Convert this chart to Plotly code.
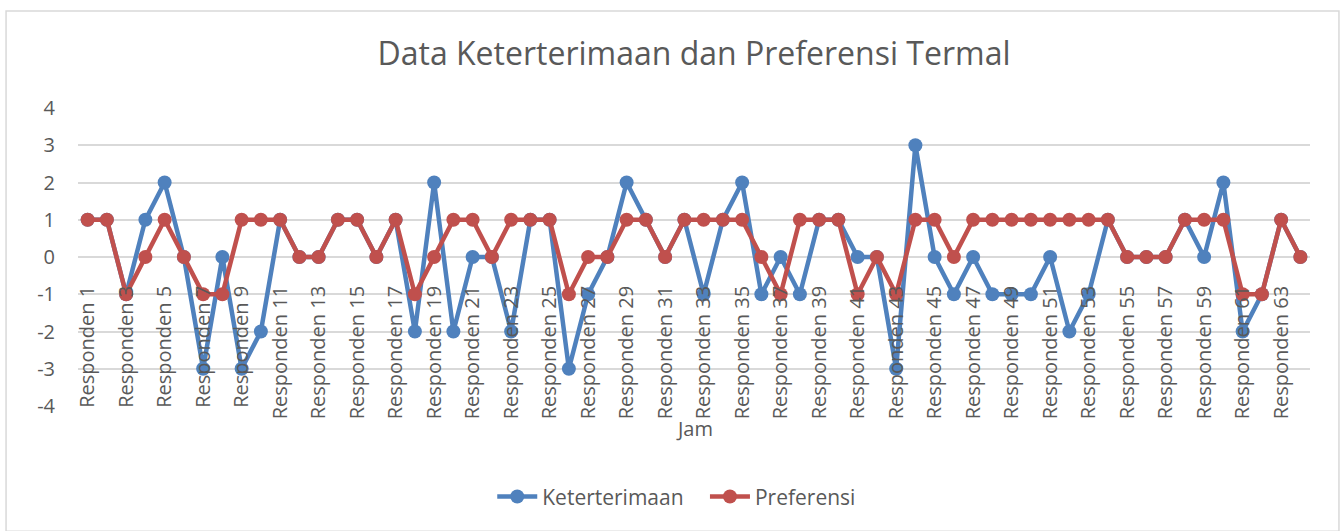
import plotly.graph_objects as go

categories = [f"Responden {i}" for i in range(1, 65)]

keterterimaan = [1, 1, -1, 1, 2, 0, -3, 0, -3, -2,
                 1, 0, 0, 1, 1, 0, 1, -2, 2, -2,
                 0, 0, -2, 1, 1, -3, -1, 0, 2, 1,
                 0, 1, -1, 1, 2, -1, 0, -1, 1, 1,
                 0, 0, -3, 3, 0, -1, 0, -1, -1, -1,
                 0, -2, -1, 1, 0, 0, 0, 1, 0, 2,
                 -2, -1, 1, 0]

preferensi = [1, 1, -1, 0, 1, 0, -1, -1, 1, 1,
              1, 0, 0, 1, 1, 0, 1, -1, 0, 1,
              1, 0, 1, 1, 1, -1, 0, 0, 1, 1,
              0, 1, 1, 1, 1, 0, -1, 1, 1, 1,
              -1, 0, -1, 1, 1, 0, 1, 1, 1, 1,
              1, 1, 1, 1, 0, 0, 0, 1, 1, 1,
              -1, -1, 1, 0]

y_ticks = [-4, -3, -2, -1, 0, 1, 2, 3, 4]
y_tick_text = ["-4", "-3", "-2", "-1", "0", "1", "2", "3", "4"]
tick_labels = categories[::2]

BLUE = "#4F81BD"
RED = "#C0504D"
TXT = "#595959"
GRID = "#D9D9D9"
FONT = "Open Sans"

fig = go.Figure()
fig.add_trace(go.Scatter(x=categories, y=keterterimaan, name="Keterterimaan   ",
                         mode="lines+markers",
                         line=dict(color=BLUE, width=4.5),
                         marker=dict(color=BLUE, size=14)))
fig.add_trace(go.Scatter(x=categories, y=preferensi, name="Preferensi",
                         mode="lines+markers",
                         line=dict(color=RED, width=4.5),
                         marker=dict(color=RED, size=14)))

fig.update_layout(
    width=1342, height=531,
    margin=dict(l=78, r=32, t=108, b=125),
    paper_bgcolor="white", plot_bgcolor="white",
    font=dict(family=FONT, color=TXT, size=20),
    title=dict(text="Data Keterterimaan dan Preferensi Termal",
               font=dict(family=FONT, size=32, color=TXT),
               x=0.5, xanchor="center", xref="paper",
               y=1 - 54 / 531, yanchor="middle", yref="container",
               automargin=False),
    showlegend=True,
    legend=dict(orientation="h", x=0.486, xanchor="center",
                y=-0.305, yanchor="middle",
                font=dict(family=FONT, size=21, color=TXT),
                itemwidth=40),
    xaxis=dict(type="category", range=[-0.5, 63.5],
               showgrid=False, zeroline=False, showline=False,
               tickmode="array", tickvals=tick_labels, ticktext=tick_labels,
               tickangle=-90, ticks="",
               tickfont=dict(family=FONT, size=20, color=TXT),
               anchor="free", position=0.42, automargin=False),
    yaxis=dict(range=[-4, 4], tickmode="array",
               tickvals=y_ticks, ticktext=y_tick_text,
               showgrid=True, gridcolor=GRID, gridwidth=1.5,
               zeroline=True, zerolinecolor=GRID, zerolinewidth=1.5,
               showline=False, ticks="",
               ticklabelstandoff=22, automargin=False,
               tickfont=dict(family=FONT, size=20, color=TXT)),
    annotations=[dict(text="Jam", xref="paper", yref="paper",
                      x=0.5, y=-0.074, xanchor="center", yanchor="middle",
                      showarrow=False,
                      font=dict(family=FONT, size=20, color=TXT))],
    shapes=[dict(type="rect", xref="paper", yref="paper",
                 x0=-0.0584, x1=1.0235, y0=-0.42, y1=1.3255,
                 line=dict(color=GRID, width=1.5), fillcolor="rgba(0,0,0,0)",
                 layer="below")],
)

fig.write_html("out.html",
               config={"displayModeBar": False},
               post_script="document.body.style.margin='0';document.body.style.padding='0';")
